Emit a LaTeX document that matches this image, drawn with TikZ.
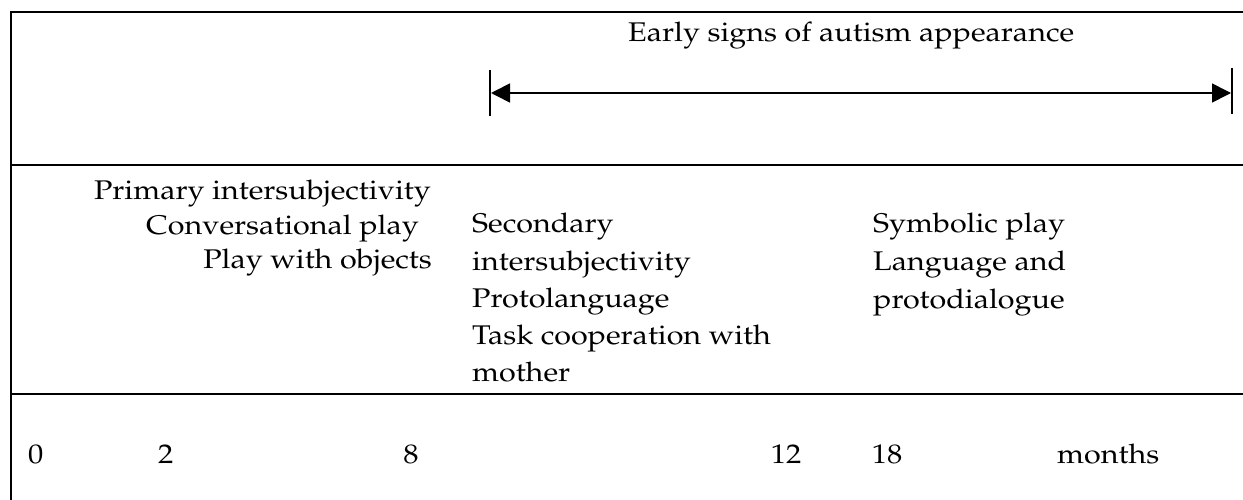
\documentclass[tikz,border=0pt]{standalone}
\usepackage[T1]{fontenc}
\usepackage{mathpazo}
\usepackage{graphicx}
\usetikzlibrary{arrows.meta}
\newcommand{\wtx}[1]{\scalebox{1.13}[1]{#1}}
\tikzset{
  rule/.style={line width=2pt, black},
  txt/.style={inner sep=0pt, font=\fontsize{27}{32}\selectfont},
  bar/.style={line width=2pt, black},
  span/.style={line width=1.6pt, {Triangle[length=19pt,width=19pt]}-{Triangle[length=19pt,width=19pt]}}
}
\begin{document}
\begin{tikzpicture}[x=1pt,y=-1pt]
\useasboundingbox (0,0) rectangle (1243,500);
% frame rules
\coordinate (tl) at (11,12);
\coordinate (tr) at (1243,12);
\coordinate (bl) at (11,500);
\coordinate (m1l) at (11,165);
\coordinate (m1r) at (1243,165);
\coordinate (m2l) at (11,394);
\coordinate (m2r) at (1243,394);
\draw[rule] (tr) -- (tl) -- (bl);
\draw[rule] (m1l) -- (m1r);
\draw[rule] (m2l) -- (m2r);
% early signs arrow
\node[txt, anchor=base west] (early) at (628,42) {\wtx{Early signs of autism appearance}};
\coordinate (b1t) at (490,70);
\coordinate (b1b) at (490,116);
\coordinate (b2t) at (1232,68);
\coordinate (b2b) at (1232,114);
\draw[bar] (b1t) -- (b1b);
\draw[bar] (b2t) -- (b2b);
\coordinate (al) at (491,93);
\coordinate (ar) at (1231,93);
\draw[span] (al) -- (ar);
% left column
\node[txt, anchor=base east] (p1) at (431,200) {\wtx{Primary intersubjectivity}};
\node[txt, anchor=base east] (p2) at (419,234) {\wtx{Conversational play}};
\node[txt, anchor=base east] (p3) at (432,268) {\wtx{Play with objects}};
% middle column
\node[txt, anchor=base west] (s1) at (472,233) {\wtx{Secondary}};
\node[txt, anchor=base west] (s2) at (472,270) {\wtx{intersubjectivity}};
\node[txt, anchor=base west] (s3) at (472,307) {\wtx{Protolanguage}};
\node[txt, anchor=base west] (s4) at (472,344) {\wtx{Task cooperation with}};
\node[txt, anchor=base west] (s5) at (472,381) {\wtx{mother}};
% right column
\node[txt, anchor=base west] (r1) at (873,233) {\wtx{Symbolic play}};
\node[txt, anchor=base west] (r2) at (873,270) {\wtx{Language and}};
\node[txt, anchor=base west] (r3) at (873,308) {\wtx{protodialogue}};
% months row
\node[txt, anchor=base west] (n0) at (28,463) {\wtx{0}};
\node[txt, anchor=base west] (n2) at (158,463) {\wtx{2}};
\node[txt, anchor=base] (n8) at (411,463) {\wtx{8}};
\node[txt, anchor=base] (n12) at (786,463) {\wtx{12}};
\node[txt, anchor=base] (n18) at (887,463) {\wtx{18}};
\node[txt, anchor=base west] (mo) at (1057,463) {\wtx{months}};
\end{tikzpicture}
\end{document}
